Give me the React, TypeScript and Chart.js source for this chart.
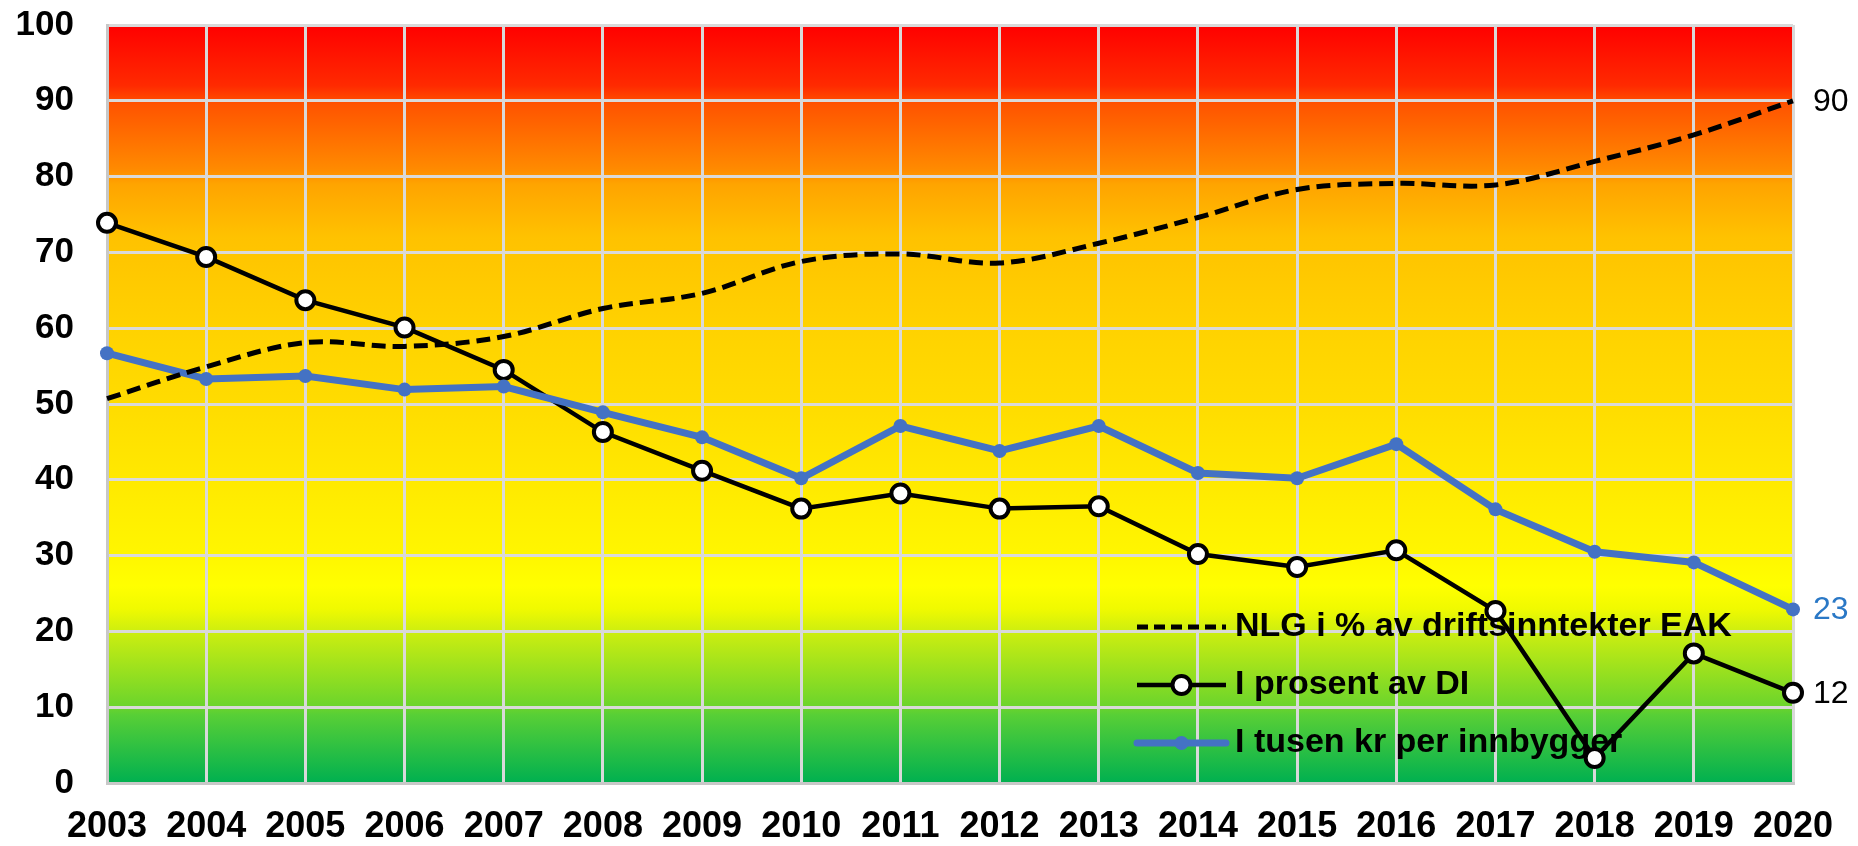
import React, { useEffect, useRef } from "react";
import { Chart, registerables } from "chart.js";

Chart.register(...registerables);

const years = ["2003", "2004", "2005", "2006", "2007", "2008", "2009", "2010", "2011", "2012", "2013", "2014", "2015", "2016", "2017", "2018", "2019", "2020"];
const nlgPct = [50.7, 54.9, 58.1, 57.6, 58.9, 62.6, 64.6, 68.8, 69.8, 68.6, 71.2, 74.6, 78.3, 79.1, 78.9, 82.0, 85.5, 90.0];
const prosentDI = [73.9, 69.4, 63.7, 60.1, 54.5, 46.3, 41.2, 36.2, 38.2, 36.2, 36.5, 30.2, 28.5, 30.7, 22.7, 3.3, 17.1, 11.9];
const tusenKr = [56.7, 53.3, 53.7, 51.9, 52.3, 48.9, 45.6, 40.2, 47.1, 43.8, 47.1, 40.9, 40.2, 44.7, 36.1, 30.5, 29.1, 22.9];

const seriesNames = ["NLG i % av driftsinntekter EAK", "I prosent av DI", "I tusen kr per innbygger"];
const endLabels = ["90", "12", "23"];
const yTicks = [0, 10, 20, 30, 40, 50, 60, 70, 80, 90, 100];

// background gradient stops: value on y axis -> colour
const bgStopValues = [100, 92, 89.5, 81, 79, 72, 60, 50, 40, 30, 26, 23, 20, 10, 9, 0];
const bgStopColors = ["#ff0000", "#ff2a00", "#ff5400", "#ff8a00", "#ffa400", "#ffc200", "#ffd200", "#ffdc00", "#ffe900", "#fff600", "#ffff00", "#f0fa00", "#cdee10", "#6ad42c", "#58cf36", "#00b050"];

const FONT = "'Liberation Sans', Arial, sans-serif";
const BLUE = "#4472c4";

const bgPlugin = {
  id: "bgGradient",
  beforeDraw(chart: any) {
    const { ctx, chartArea } = chart;
    if (!chartArea) return;
    const ys = chart.scales.y;
    const g = ctx.createLinearGradient(0, chartArea.top, 0, chartArea.bottom);
    bgStopValues.forEach((v, i) => {
      const off = (ys.getPixelForValue(v) - chartArea.top) / (chartArea.bottom - chartArea.top);
      g.addColorStop(Math.min(1, Math.max(0, off)), bgStopColors[i]);
    });
    ctx.save();
    ctx.fillStyle = g;
    ctx.fillRect(chartArea.left, chartArea.top, chartArea.right - chartArea.left, chartArea.bottom - chartArea.top);
    ctx.restore();
  },
};

const legendPlugin = {
  id: "insideLegend",
  beforeDatasetsDraw(chart: any) {
    const { ctx } = chart;
    const x0 = 1137;
    const x1 = 1226;
    const xm = (x0 + x1) / 2;
    const rows = [627, 685, 743];
    ctx.save();
    // dashed
    ctx.strokeStyle = "#000";
    ctx.lineWidth = 5;
    ctx.setLineDash([11, 6]);
    ctx.beginPath();
    ctx.moveTo(x0, rows[0]);
    ctx.lineTo(x1, rows[0]);
    ctx.stroke();
    ctx.setLineDash([]);
    // black with circle
    ctx.lineWidth = 4.5;
    ctx.beginPath();
    ctx.moveTo(x0, rows[1]);
    ctx.lineTo(x1, rows[1]);
    ctx.stroke();
    ctx.beginPath();
    ctx.arc(xm, rows[1], 9, 0, Math.PI * 2);
    ctx.fillStyle = "#fff";
    ctx.fill();
    ctx.lineWidth = 4;
    ctx.stroke();
    // blue
    ctx.strokeStyle = BLUE;
    ctx.lineWidth = 7;
    ctx.lineCap = "round";
    ctx.beginPath();
    ctx.moveTo(x0, rows[2]);
    ctx.lineTo(x1, rows[2]);
    ctx.stroke();
    ctx.beginPath();
    ctx.arc(xm, rows[2], 7, 0, Math.PI * 2);
    ctx.fillStyle = BLUE;
    ctx.fill();
    // texts
    ctx.fillStyle = "#000";
    ctx.font = `bold 34px ${FONT}`;
    ctx.textBaseline = "middle";
    ctx.textAlign = "left";
    seriesNames.forEach((n, i) => ctx.fillText(n, 1235, rows[i]));
    ctx.restore();
  },
};

const endLabelPlugin = {
  id: "endLabels",
  afterDatasetsDraw(chart: any) {
    const { ctx } = chart;
    const colors = ["#000", "#000", "#2a78c6"];
    ctx.save();
    ctx.font = `32px ${FONT}`;
    ctx.textBaseline = "middle";
    ctx.textAlign = "left";
    chart.data.datasets.forEach((ds: any, i: number) => {
      const meta = chart.getDatasetMeta(i);
      const pt = meta.data[meta.data.length - 1];
      if (!pt) return;
      ctx.fillStyle = colors[i];
      ctx.fillText(endLabels[i], pt.x + 20, pt.y + 1);
    });
    ctx.restore();
  },
};

export default function App() {
  const ref = useRef<HTMLCanvasElement | null>(null);
  useEffect(() => {
    if (!ref.current) return;
    const chart = new Chart(ref.current, {
      type: "line",
      data: {
        labels: years,
        datasets: [
          {
            label: seriesNames[0],
            data: nlgPct,
            borderColor: "#000",
            borderWidth: 5,
            borderDash: [14, 7],
            pointRadius: 0,
            tension: 0.35,
            fill: false,
            order: 0,
          },
          {
            label: seriesNames[1],
            data: prosentDI,
            borderColor: "#000",
            borderWidth: 4.5,
            pointRadius: 9,
            pointBorderWidth: 4,
            pointBackgroundColor: "#fff",
            pointBorderColor: "#000",
            tension: 0,
            fill: false,
            order: 2,
          },
          {
            label: seriesNames[2],
            data: tusenKr,
            borderColor: BLUE,
            borderWidth: 7,
            pointRadius: 7,
            pointBorderWidth: 0,
            pointBackgroundColor: BLUE,
            pointBorderColor: BLUE,
            tension: 0,
            fill: false,
            order: 1,
          },
        ],
      },
      options: {
        responsive: false,
        animation: false,
        devicePixelRatio: 1,
        layout: { padding: { left: 0, top: 25, right: 65, bottom: 0 } },
        plugins: { legend: { display: false }, tooltip: { enabled: false } },
        scales: {
          x: {
            offset: false,
            grid: { color: "#d9d9d9", lineWidth: 3, drawTicks: false },
            border: { color: "#c8c8c8", width: 3 },
            ticks: { color: "#000", font: { family: FONT, size: 36, weight: "bold" }, padding: 22, maxRotation: 0, autoSkip: false },
            afterFit: (s: any) => { s.height = 63; s.paddingLeft = 0; s.paddingRight = 0; },
          },
          y: {
            min: 0,
            max: 100,
            grid: { color: "#d9d9d9", lineWidth: 3, drawTicks: false },
            border: { color: "#c8c8c8", width: 3 },
            afterBuildTicks: (s: any) => { s.ticks = yTicks.map((v) => ({ value: v })); },
            ticks: { color: "#000", font: { family: FONT, size: 35, weight: "bold" }, padding: 33 },
            afterFit: (s: any) => { s.width = 107; s.paddingTop = 0; s.paddingBottom = 0; },
          },
        },
      },
      plugins: [bgPlugin, legendPlugin, endLabelPlugin],
    } as any);
    return () => chart.destroy();
  }, []);
  return (
    <div style={{ position: "fixed", left: 0, top: 0, width: 1858, height: 846, background: "#fff" }}>
      <canvas ref={ref} width={1858} height={846} style={{ width: 1858, height: 846 }} />
    </div>
  );
}
